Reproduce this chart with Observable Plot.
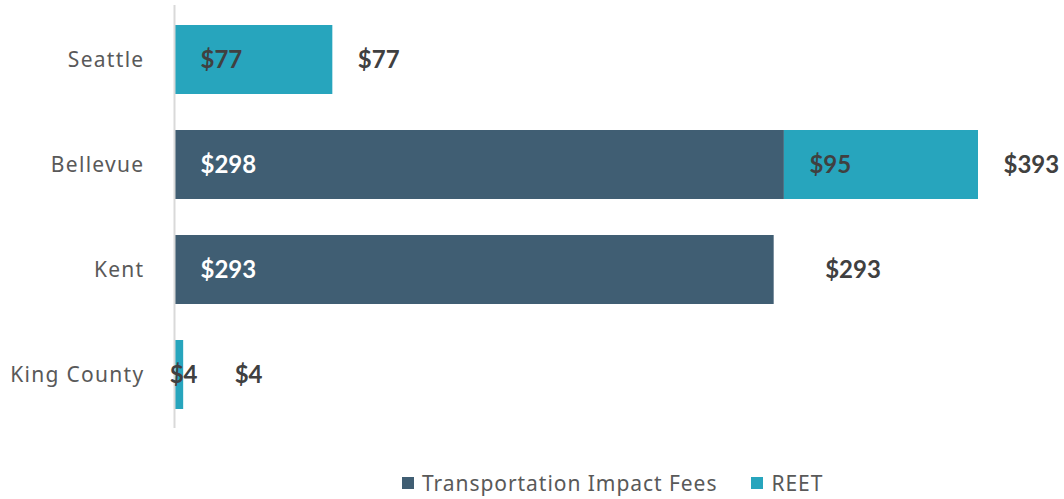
<!DOCTYPE html>
<html>
<head>
<meta charset="utf-8">
<script src="https://cdn.jsdelivr.net/npm/d3@7"></script>
<script src="https://cdn.jsdelivr.net/npm/@observablehq/plot@0.6"></script>
<style>
  body { margin: 0; background: #fff; font-family: Lato, "Open Sans", sans-serif; }
  #wrap { position: relative; width: 1064px; height: 499px; }
  #legend { position: absolute; left: 402px; top: 469px; display: flex; align-items: center; font-size: 21px; letter-spacing: 0.95px; color: #595959; font-family: "Noto Sans", Lato, sans-serif; }
  .sw { display: inline-block; width: 12px; height: 12px; margin-right: 8px; }
  .item { display: flex; align-items: center; margin-right: 34px; }
  g[aria-label="y-axis tick label"] text { letter-spacing: 1.3px; }
</style>
</head>
<body>
<div id="wrap"><div id="chart"></div><div id="legend"></div></div>
<script>
const categories = ["Seattle", "Bellevue", "Kent", "King County"];
const seriesNames = ["Transportation Impact Fees", "REET"];
const impactFees = [0, 298, 293, 0];
const reet = [77, 95, 0, 4];
const colors = ["#405e73", "#27a5bd"];

const rows = [];
categories.forEach((c, i) => {
  rows.push({city: c, series: seriesNames[0], value: impactFees[i], start: 0});
  rows.push({city: c, series: seriesNames[1], value: reet[i], start: impactFees[i]});
});
const totals = categories.map((c, i) => ({city: c, total: impactFees[i] + reet[i], last: reet[i]}));
const labelled = rows.filter(d => d.value > 0);
const wide = labelled.filter(d => d.value >= 20);
const narrow = labelled.filter(d => d.value < 20);
const valueFont = {fontWeight: "bold", fontSize: 24, fontFamily: "Lato, sans-serif"};

const chart = Plot.plot({
  width: 1064,
  height: 440,
  marginLeft: 175,
  marginRight: 86,
  marginTop: 5,
  marginBottom: 12,
  style: {fontFamily: "'Noto Sans', Lato, sans-serif", fontSize: "20px", color: "#595959"},
  x: {domain: [0, 393], axis: null},
  y: {domain: categories, paddingInner: 0.346, paddingOuter: 0.175, label: null},
  color: {domain: seriesNames, range: colors},
  marks: [
    Plot.barX(rows.filter(d => d.value > 0), {x1: "start", x2: d => d.start + d.value, y: "city", fill: "series"}),
    Plot.ruleX([0], {stroke: "#d9d9d9", strokeWidth: 2, dx: -1}),
    Plot.text(wide, {x: "start", y: "city", text: d => "$" + d.value, textAnchor: "start", dx: 25,
      fill: d => d.series === seriesNames[0] ? "#ffffff" : "#404040", ...valueFont}),
    Plot.text(narrow, {x: d => d.start + d.value / 2, y: "city", text: d => "$" + d.value, textAnchor: "middle", dx: 4,
      fill: "#404040", ...valueFont}),
    Plot.text(totals.filter(d => d.last >= 20), {x: "total", y: "city", text: d => "$" + d.total, textAnchor: "start", dx: 25,
      fill: "#404040", ...valueFont}),
    Plot.text(totals.filter(d => d.last < 20), {x: "total", y: "city", text: d => "$" + d.total, textAnchor: "start", dx: 51,
      fill: "#404040", ...valueFont}),
    Plot.axisY({tickSize: 0, tickPadding: 31, fill: "#595959", fontSize: 21, label: null})
  ]
});
document.getElementById("chart").appendChild(chart);

const legend = document.getElementById("legend");
seriesNames.forEach((s, i) => {
  const item = document.createElement("span");
  item.className = "item";
  const sw = document.createElement("span");
  sw.className = "sw";
  sw.style.background = colors[i];
  item.appendChild(sw);
  item.appendChild(document.createTextNode(s));
  legend.appendChild(item);
});
</script>
</body>
</html>
